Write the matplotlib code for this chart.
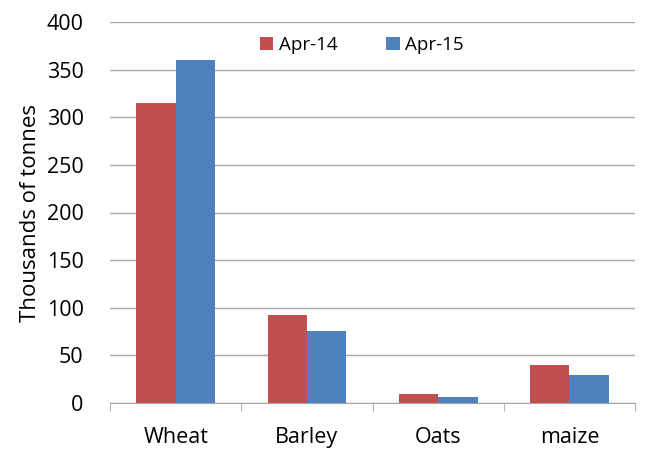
#!/usr/bin/env python3

import matplotlib
matplotlib.use("Agg")
import matplotlib.pyplot as plt
import numpy as np

CATEGORIES = ["Wheat", "Barley", "Oats", "maize"]
APR_14 = [315, 92, 9, 40]
APR_15 = [360, 76, 6, 29]
SERIES_LABELS = ["Apr-14", "Apr-15"]
COLORS = ["#C0504D", "#4F81BD"]

plt.rcParams["font.family"] = ["Open Sans", "DejaVu Sans"]

fig = plt.figure(figsize=(6.5, 4.5), dpi=100)
ax = fig.add_axes([110 / 650, 47 / 450, 525 / 650, 381 / 450])

x = np.arange(len(CATEGORIES))
w = 0.3
ax.bar(x - w / 2, APR_14, w, color=COLORS[0], label=SERIES_LABELS[0], zorder=3)
ax.bar(x + w / 2, APR_15, w, color=COLORS[1], label=SERIES_LABELS[1], zorder=3)

ax.set_xlim(-0.5, len(CATEGORIES) - 0.5)
ax.set_ylim(0, 400)
ax.set_yticks(range(0, 401, 50))
ax.yaxis.grid(True, color="#A6A6A6", linewidth=1, zorder=0)
ax.tick_params(axis="y", length=0, labelsize=15.5, pad=19, colors="#000000")

ax.set_xticks(x)
ax.set_xticklabels(CATEGORIES, fontsize=15.5)
ax.set_xticks(np.arange(-0.5, len(CATEGORIES), 1), minor=True)
ax.tick_params(axis="x", which="major", length=0, pad=17)
ax.tick_params(axis="x", which="minor", length=6, color="#A6A6A6", direction="out")

for side in ["left", "right", "top"]:
    ax.spines[side].set_visible(False)
ax.spines["bottom"].set_color("#A6A6A6")

ax.set_ylabel("Thousands of tonnes", fontsize=16, labelpad=4)

ax.legend(loc="upper center", bbox_to_anchor=(0.48, 1.008), ncol=2, frameon=False,
          fontsize=13.5, handlelength=0.7, handleheight=0.7, columnspacing=2.6,
          handletextpad=0.3)

fig.savefig("out.png", dpi=100)
